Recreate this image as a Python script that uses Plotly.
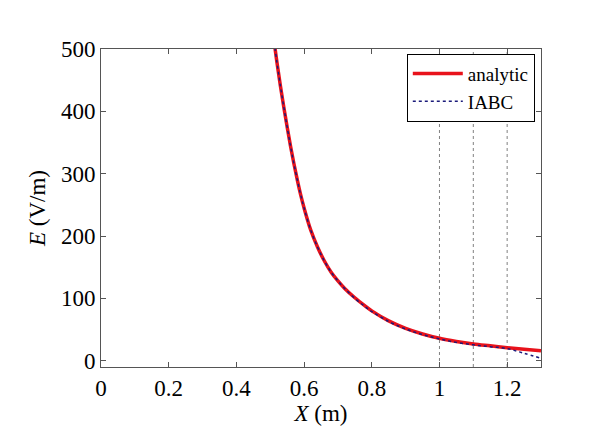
import plotly.graph_objects as go

# values
x_analytic = [0.505, 0.51, 0.52, 0.53, 0.54, 0.55, 0.56, 0.57, 0.58, 0.59, 0.60, 0.62, 0.64,
              0.66, 0.68, 0.70, 0.72, 0.75, 0.78, 0.80, 0.85, 0.90, 0.95, 1.00, 1.05,
              1.10, 1.15, 1.20, 1.25, 1.30]
e_analytic = [540, 518, 478, 441, 407, 375, 344, 316, 290, 266, 245, 209, 182,
              160, 142, 128, 116, 101, 88, 80, 64, 52, 43, 36, 31,
              27, 24, 21, 18.5, 16]

x_iabc = [0.505, 0.51, 0.52, 0.53, 0.54, 0.55, 0.56, 0.57, 0.58, 0.59, 0.60, 0.62, 0.64,
          0.66, 0.68, 0.70, 0.72, 0.75, 0.78, 0.80, 0.85, 0.90, 0.95, 1.00, 1.05,
          1.10, 1.15, 1.20, 1.25, 1.30]
e_iabc = [540, 518, 478, 441, 407, 375, 344, 316, 290, 266, 245, 209, 182,
          160, 142, 128, 116, 100, 87, 79, 63, 51, 42, 35, 29.5,
          25.5, 22.5, 19.5, 12, 4]

boundaries = [1.0, 1.1, 1.2]
x_ticks = [0, 0.2, 0.4, 0.6, 0.8, 1, 1.2]
y_ticks = [0, 100, 200, 300, 400, 500]

font_family = "Liberation Serif, Times New Roman, serif"

fig = go.Figure()

fig.add_trace(go.Scatter(x=x_analytic, y=e_analytic, mode="lines", name="analytic",
                         line=dict(color="#e8121b", width=3.5, shape="spline", smoothing=1)))
fig.add_trace(go.Scatter(x=x_iabc, y=e_iabc, mode="lines", name="IABC",
                         line=dict(color="#1a1a7a", width=1.5, dash="dot", shape="spline", smoothing=1)))

# dotted markers for the boundary layers
for b in boundaries:
    fig.add_vline(x=b, line=dict(color="#808080", width=1, dash="dot"), layer="below")

axis_style = dict(showline=True, linecolor="#555555", linewidth=1, mirror="ticks",
                  ticks="inside", ticklen=5, tickcolor="#555555", showgrid=False,
                  zeroline=False, automargin=False, tickfont=dict(size=23, color="black"))

fig.update_xaxes(range=[0, 1.3], tickvals=x_ticks, ticktext=[str(t) for t in x_ticks],
                 title=dict(text="<i>X</i> (m)", font=dict(size=23), standoff=0), **axis_style)
fig.update_yaxes(range=[-10, 500], tickvals=y_ticks,
                 title=dict(text="<i>E</i> (V/m)", font=dict(size=23), standoff=8), **axis_style)

# page body adds an 8px offset, so margins are shifted to compensate
fig.update_layout(
    width=590, height=443,
    margin=dict(l=93, r=57, t=41, b=84),
    paper_bgcolor="white", plot_bgcolor="white",
    font=dict(family=font_family, color="black"),
    showlegend=True,
    legend=dict(x=0.695, y=0.985, xanchor="left", yanchor="top",
                bordercolor="black", borderwidth=1, bgcolor="white",
                font=dict(size=19), itemwidth=50, tracegroupgap=0),
)

fig.write_html("out.html")
